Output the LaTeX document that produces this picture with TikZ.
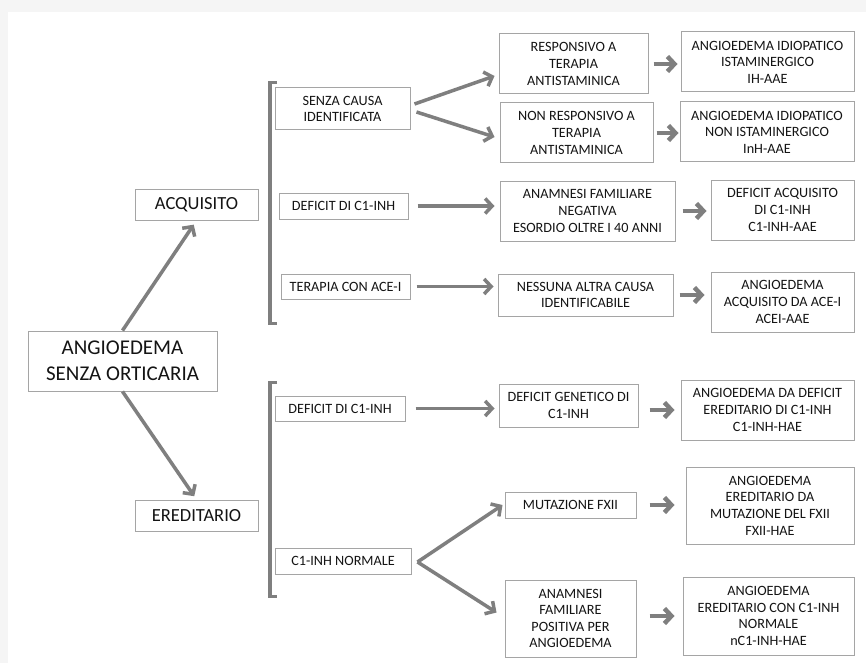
\documentclass[tikz,border=0pt]{standalone}
\usepackage{fontspec}
\setmainfont{Carlito}
\usetikzlibrary{arrows.meta}
\definecolor{arrgray}{RGB}{127,127,127}
\definecolor{boxgray}{RGB}{165,165,165}
\definecolor{txtcol}{RGB}{20,20,20}

\begin{document}
\begin{tikzpicture}[x=1pt,y=-1pt,
  box/.style={draw=boxgray,line width=1pt,fill=white,align=center,inner sep=0pt,
    text=txtcol,font=\fontsize{14.2}{16.6}\selectfont},
  bigbox/.style={box,font=\fontsize{18.5}{22}\selectfont},
  rootbox/.style={box,font=\fontsize{21}{25.7}\selectfont},
  arr/.style={draw=arrgray,line width=3.5pt,-{Straight Barb[length=7pt,width=15pt]}},
  shortarr/.style={arr,line width=4.5pt},
  brak/.style={draw=arrgray,line width=3.5pt}]
  \useasboundingbox (0,0) rectangle (866,663);
  \fill[gray!8] (0,0) rectangle (866,663); % page shadow
  \fill[white] (8,12) rectangle (866,663);

  % left column
  \node[rootbox,minimum width=189pt,minimum height=60pt] (root) at (122.5,361) {ANGIOEDEMA\\SENZA ORTICARIA};
  \node[bigbox,minimum width=123pt,minimum height=31pt] (acq) at (196.5,204.5) {ACQUISITO};
  \node[bigbox,minimum width=123pt,minimum height=31pt] (ered) at (196.5,515.5) {EREDITARIO};

  % causes
  \node[box,minimum width=135pt,minimum height=42pt] (senza) at (342.5,109) {SENZA CAUSA\\IDENTIFICATA};
  \node[box,minimum width=129pt,minimum height=26pt] (defa) at (343.5,206) {DEFICIT DI C1-INH};
  \node[box,minimum width=129pt,minimum height=25pt] (ace) at (345.5,286.5) {TERAPIA CON ACE-I};
  \node[box,minimum width=130pt,minimum height=25pt] (defe) at (340,408.5) {DEFICIT DI C1-INH};
  \node[box,minimum width=136pt,minimum height=26pt] (norm) at (343,561) {C1-INH NORMALE};

  % criteria
  \node[box,minimum width=149pt,minimum height=60pt] (resp) at (573.5,64) {RESPONSIVO A\\TERAPIA\\ANTISTAMINICA};
  \node[box,minimum width=153pt,minimum height=60pt] (nonresp) at (576.5,133) {NON RESPONSIVO A\\TERAPIA\\ANTISTAMINICA};
  \node[box,minimum width=175pt,minimum height=60pt] (anamneg) at (587.5,211) {ANAMNESI FAMILIARE\\NEGATIVA\\ESORDIO OLTRE I 40 ANNI};
  \node[box,minimum width=175pt,minimum height=42pt] (nessuna) at (585.5,295) {NESSUNA ALTRA CAUSA\\IDENTIFICABILE};
  \node[box,minimum width=139pt,minimum height=43pt] (defgen) at (568.5,405.5) {DEFICIT GENETICO DI\\C1-INH};
  \node[box,minimum width=131pt,minimum height=26pt] (fxii) at (570.5,505) {MUTAZIONE FXII};
  \node[box,minimum width=131pt,minimum height=77pt] (anampos) at (570.5,618.5) {ANAMNESI\\FAMILIARE\\POSITIVA PER\\ANGIOEDEMA};

  % diagnoses
  \node[box,minimum width=173pt,minimum height=60pt] (ih) at (767.5,62) {ANGIOEDEMA IDIOPATICO\\ISTAMINERGICO\\IH-AAE};
  \node[box,minimum width=174pt,minimum height=60pt] (inh) at (767,132) {ANGIOEDEMA IDIOPATICO\\NON ISTAMINERGICO\\InH-AAE};
  \node[box,minimum width=143pt,minimum height=60pt] (defacq) at (782.5,210) {DEFICIT ACQUISITO\\DI C1-INH\\C1-INH-AAE};
  \node[box,minimum width=143pt,minimum height=60pt] (aceaae) at (782.5,302) {ANGIOEDEMA\\ACQUISITO DA ACE-I\\ACEI-AAE};
  \node[box,minimum width=173pt,minimum height=60pt] (c1hae) at (767.5,410) {ANGIOEDEMA DA DEFICIT\\EREDITARIO DI C1-INH\\C1-INH-HAE};
  \node[box,minimum width=168pt,minimum height=77pt] (fxiihae) at (770,505.5) {ANGIOEDEMA\\EREDITARIO DA\\MUTAZIONE DEL FXII\\FXII-HAE};
  \node[box,minimum width=171pt,minimum height=78pt] (nc1hae) at (768.5,616) {ANGIOEDEMA\\EREDITARIO CON C1-INH\\NORMALE\\nC1-INH-HAE};

  % brackets
  \draw[brak] (277,82.5) -- (270,82.5) -- (270,323.5) -- (277,323.5);
  \draw[brak] (277,382.5) -- (270,382.5) -- (270,596.5) -- (277,596.5);

  % root arrows
  \draw[arr,shorten >=5pt] (root.north) -- (acq.south);
  \draw[arr,shorten >=4pt] (root.south) -- (ered.north);

  % long arrows
  \draw[arr] ([xshift=4pt,yshift=5pt]senza.east) -- ([xshift=-4pt,yshift=-12pt]resp.west);
  \draw[arr] ([xshift=6pt,yshift=-3pt]senza.east) -- ([xshift=-5pt,yshift=-4pt]nonresp.west);
  \draw[arr,shorten <=9pt,shorten >=5pt] (defa.east) -- (defa.east -| anamneg.west);
  \draw[arr,shorten <=6pt,shorten >=4pt] (ace.east) -- (ace.east -| nessuna.west);
  \draw[arr,shorten <=10pt,shorten >=4pt] (defe.east) -- (defe.east -| defgen.west);
  \draw[arr] ([xshift=6pt,yshift=-1pt]norm.east) -- ([xshift=-2pt]fxii.west);
  \draw[arr] ([xshift=6pt,yshift=-1pt]norm.east) -- ([xshift=-8pt,yshift=6pt]anampos.west);

  % short arrows
  \draw[shortarr,shorten <=5pt,shorten >=3pt] (resp.east) -- (resp.east -| ih.west);
  \draw[shortarr,shorten <=3pt,shorten >=1pt] (nonresp.east) -- (nonresp.east -| inh.west);
  \draw[shortarr,shorten <=7pt,shorten >=4pt] (anamneg.east) -- (anamneg.east -| defacq.west);
  \draw[shortarr,shorten <=6pt,shorten >=6pt] (nessuna.east) -- (nessuna.east -| aceaae.west);
  \draw[shortarr,shorten <=11pt,shorten >=6pt] (defgen.east |- c1hae.west) -- (c1hae.west);
  \draw[shortarr,shorten <=13pt,shorten >=11pt] (fxii.east) -- (fxii.east -| fxiihae.west);
  \draw[shortarr,shorten <=13pt,shorten >=8pt] (anampos.east |- nc1hae.west) -- (nc1hae.west);
\end{tikzpicture}
\end{document}
